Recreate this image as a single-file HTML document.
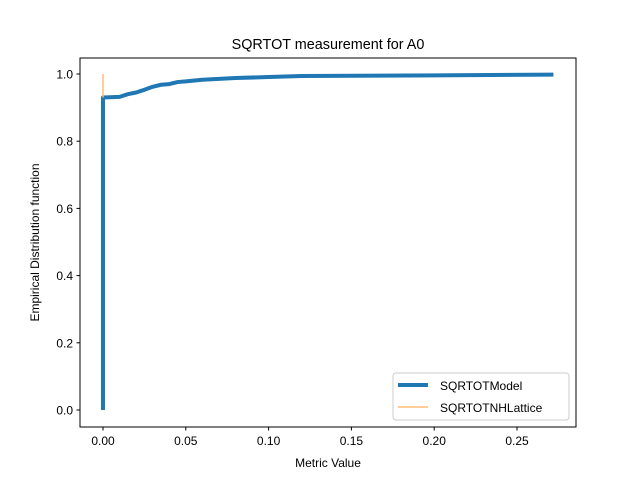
<!DOCTYPE html>
<html><head><meta charset="utf-8"><style>body{margin:0;background:#fff}svg{display:block;font-family:"Liberation Sans","DejaVu Sans",sans-serif}</style></head>
<body>
<svg id="chart" width="640" height="480">
<rect width="640" height="480" fill="#fff"/>
<text x="328" y="49" text-anchor="middle" font-size="14.4">SQRTOT measurement for A0</text>
<g id="ticks"></g>
<g id="series"></g>
<rect x="80" y="58" width="496" height="369" fill="none" stroke="#000" stroke-width="1"/>
<text x="328" y="467" text-anchor="middle" font-size="12">Metric Value</text>
<text transform="translate(39,242.5) rotate(-90)" text-anchor="middle" font-size="12">Empirical Distribution function</text>
<g>
<rect x="393" y="373" width="176" height="47" rx="3" fill="#fff" stroke="#ccc"/>
<line x1="398" y1="385" x2="428" y2="385" stroke="#1f77b4" stroke-width="4"/>
<text x="440" y="390" font-size="12">SQRTOTModel</text>
<line x1="398" y1="407" x2="428" y2="407" stroke="#ffbb78" stroke-width="1.5"/>
<text x="440" y="412" font-size="12">SQRTOTNHLattice</text>
</g>
</svg>
<script>
const modelX=[0,0,0.01,0.015,0.02,0.025,0.03,0.035,0.04,0.045,0.05,0.06,0.08,0.1,0.12,0.2,0.272];
const modelY=[0,0.93,0.932,0.94,0.945,0.953,0.962,0.968,0.97,0.976,0.978,0.983,0.988,0.991,0.994,0.996,0.998];
const latticeX=[0,0];
const latticeY=[0.93,1.0];
const xTicks=[0,0.05,0.1,0.15,0.2,0.25];
const xTickLabels=["0.00","0.05","0.10","0.15","0.20","0.25"];
const yTicks=[0,0.2,0.4,0.6,0.8,1.0];
const yTickLabels=["0.0","0.2","0.4","0.6","0.8","1.0"];
const NS="http://www.w3.org/2000/svg";
const sx=v=>103+v*1656;
const sy=v=>410-v*336;
const tg=document.getElementById('ticks');
xTicks.forEach((t,i)=>{
 const l=document.createElementNS(NS,'line');
 l.setAttribute('x1',sx(t));l.setAttribute('x2',sx(t));l.setAttribute('y1',427);l.setAttribute('y2',430.5);l.setAttribute('stroke','#000');
 
 
 tg.appendChild(l);
 const tx=document.createElementNS(NS,'text');
 tx.setAttribute('x',sx(t));tx.setAttribute('y',445);tx.setAttribute('text-anchor','middle');tx.setAttribute('font-size','12');tx.textContent=xTickLabels[i];
 
 
 tg.appendChild(tx);
});
yTicks.forEach((t,i)=>{
 const l=document.createElementNS(NS,'line');
 l.setAttribute('x1',76.5);l.setAttribute('x2',80);l.setAttribute('y1',sy(t));l.setAttribute('y2',sy(t));l.setAttribute('stroke','#000');
 
 
 tg.appendChild(l);
 const tx=document.createElementNS(NS,'text');
 tx.setAttribute('x',73);tx.setAttribute('y',sy(t)+4.5);tx.setAttribute('text-anchor','end');tx.setAttribute('font-size','12');tx.textContent=yTickLabels[i];
 
 
 tg.appendChild(tx);
});
const sg=document.getElementById('series');
function path(xs,ys,color,w,name){
 const p=document.createElementNS(NS,'path');
 p.setAttribute('d',xs.map((x,i)=>(i?'L':'M')+sx(x)+' '+sy(ys[i])).join(' '));
 p.setAttribute('fill','none');p.setAttribute('stroke',color);p.setAttribute('stroke-width',w);
 p.setAttribute('stroke-linejoin','round');
 
 
 sg.appendChild(p);
}
path(modelX,modelY,'#1f77b4',4,'series-sqrtotmodel');
path(latticeX,latticeY,'#ffbb78',1.5,'series-sqrtotnhlattice');
</script>
</body></html>
